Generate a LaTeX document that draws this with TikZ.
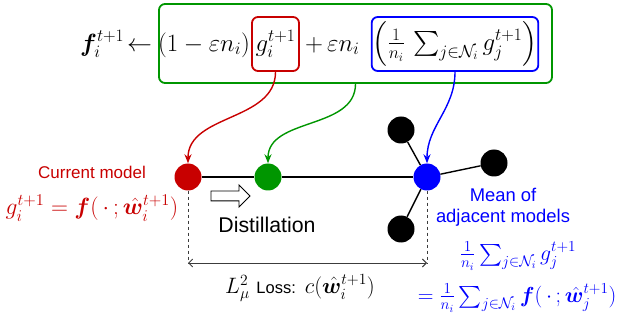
\RequirePackage{fix-cm}
\documentclass[tikz,border=0pt]{standalone}
\usepackage{amsmath,amssymb,bm}
\usepackage{fontspec}
\setsansfont{Liberation Sans}
\usepackage{tikz}
\usetikzlibrary{arrows.meta,shapes.arrows}
\definecolor{modelred}{RGB}{200,0,0}
\definecolor{modelgreen}{RGB}{0,150,0}
\definecolor{modelblue}{RGB}{0,0,255}
\definecolor{lossgray}{RGB}{60,60,60}

\begin{document}
\begin{tikzpicture}[x=1pt,y=1pt,
  dot/.style={circle,minimum size=27pt,inner sep=0pt},
  hl/.style={draw=#1,line width=1.8pt,rounded corners=6pt,inner sep=1pt},
  pointer/.style={line width=1.4pt,-{Stealth[length=9pt,width=7pt]}},
  bigmath/.style={font=\fontsize{24.9}{29}\selectfont},
  sftext/.style={font=\sffamily\fontsize{17}{21}\selectfont}]
  \useasboundingbox (0,0) rectangle (621,-323);
  % update rule with highlighted terms
  \node[hl=modelgreen,minimum width=393pt,minimum height=79pt] (rhs) at (355.5,-43.5) {};
  \node[hl=modelred,bigmath,minimum width=47pt,minimum height=54pt] (gi) at (275.5,-44) {$g_i^{t+1}$};
  \node[bigmath,anchor=base east,inner sep=0pt] (lead) at ([xshift=-1pt]gi.base west) {$(1-\varepsilon n_i)$};
  \node[bigmath,anchor=base west,inner sep=0pt] (plus) at ([xshift=5pt]gi.base east) {$+\,\varepsilon n_i$};
  \node[hl=modelblue,bigmath,minimum width=166pt,minimum height=54pt] (mean) at (455,-44)
    {$\Bigl(\tfrac{1}{n_i}\,\sum_{j\in\mathcal{N}_i} g_j^{t+1}\Bigr)$};
  \coordinate (lhsend) at (rhs.west |- gi.base);
  \node[bigmath,anchor=base east,inner sep=0pt] (lhs) at ([xshift=-6pt]lhsend) {$\bm{f}_i^{t+1}\!\leftarrow$};
  % models
  \node[dot,fill=modelred] (cur) at (188,-177) {};
  \node[dot,fill=modelgreen] (dst) at (268,-177) {};
  \node[dot,fill=modelblue] (avg) at (427,-177) {};
  \node[dot,fill=black] (nb1) at (401,-130) {};
  \node[dot,fill=black] (nb2) at (494,-163) {};
  \node[dot,fill=black] (nb3) at (401,-229) {};
  \draw[line width=1.6pt] (cur) -- (dst) -- (avg);
  \draw[line width=1.4pt] (avg) -- (nb1) (avg) -- (nb2) (avg) -- (nb3);
  \draw[pointer,modelred] (gi.south) to[out=-90,in=90] (cur.north);
  \draw[pointer,modelgreen] (rhs.south) to[out=-90,in=90] (dst.north);
  \draw[pointer,modelblue] (mean.south) to[out=-90,in=90] (avg.north);
  \node[single arrow,draw,line width=0.9pt,fill=white,minimum height=39pt,inner sep=4.5pt,
    single arrow head extend=6pt] (push) at (228,-196) {};
  \node[sftext,font=\sffamily\fontsize{21.3}{25}\selectfont] (distill) at (267,-225) {Distillation};
  % labels
  \node[sftext,text=modelred,inner sep=0pt] (curtxt) at (92,-172) {Current model};
  \node[text=modelred,inner sep=0pt,font=\fontsize{23.5}{27}\selectfont] (curfn) at (92,-208)
    {$g_i^{t+1}=\bm{f}(\,\cdot\,;\hat{\bm{w}}_i^{t+1})$};
  \node[sftext,text=modelblue,align=center,inner sep=0pt,font=\sffamily\fontsize{18.4}{21}\selectfont] (meantxt) at (503,-207.5)
    {Mean of\\adjacent models};
  \node[text=modelblue,inner sep=0pt,font=\fontsize{21.8}{26}\selectfont] (meanfn) at (518,-256)
    {$\frac{1}{n_i}\sum_{j\in\mathcal{N}_i} g_j^{t+1}$};
  \node[text=modelblue,inner sep=0pt,font=\fontsize{21.8}{26}\selectfont] (meanfw) at (517,-298)
    {$=\frac{1}{n_i}\sum_{j\in\mathcal{N}_i}\bm{f}(\,\cdot\,;\hat{\bm{w}}_j^{t+1})$};
  % loss between the two models
  \coordinate (lossL) at (188,-263);
  \coordinate (lossR) at (427,-263);
  \draw[dashed,lossgray,line width=0.9pt] (cur.south) -- (lossL);
  \draw[dashed,lossgray,line width=0.9pt] (avg.south) -- (lossR);
  \draw[lossgray,line width=0.9pt,{Straight Barb[length=4pt]}-{Straight Barb[length=4pt]}] (lossL) -- (lossR);
  \node[inner sep=0pt,font=\fontsize{22.3}{26}\selectfont] (losstxt) at (300,-288)
    {$L^2_\mu$ {\sffamily\fontsize{16.5}{19}\selectfont Loss:} $c(\hat{\bm{w}}_i^{t+1})$};
\end{tikzpicture}
\end{document}
